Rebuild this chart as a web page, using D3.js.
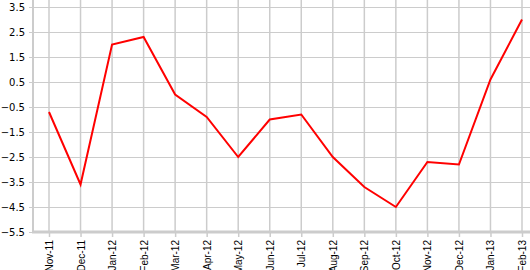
<!DOCTYPE html>
<html>
<head>
<meta charset="utf-8">
<script src="https://cdn.jsdelivr.net/npm/d3@7"></script>
<style>
  body { margin: 0; background: #fff; }
  svg { display: block; }
  text { fill: #000; }
</style>
</head>
<body>
<div id="container"></div>
<script>
/* DATA */
const months = ["Nov-11", "Dec-11", "Jan-12", "Feb-12", "Mar-12", "Apr-12", "May-12", "Jun-12",
  "Jul-12", "Aug-12", "Sep-12", "Oct-12", "Nov-12", "Dec-12", "Jan-13", "Feb-13"];
const values = [-0.7, -3.6, 2.0, 2.3, 0.0, -0.9, -2.5, -1.0, -0.8, -2.5, -3.7, -4.5, -2.7, -2.8, 0.6, 3.0];
const yTicks = [-5.5, -4.5, -3.5, -2.5, -1.5, -0.5, 0.5, 1.5, 2.5, 3.5];

/* CONSTANTS */
const width = 530, height = 270;
const left = 33, bottom = 232;

const xScale = d3.scalePoint()
  .domain(months)
  .range([49, 522]);

const yScale = d3.scaleLinear()
  .domain([-5.5, 3.5])
  .range([bottom, 7]);

const svg = d3.select("#container")
  .append("svg")
  .attr("width", width)
  .attr("height", height);

// grid
svg.append("g")
  .selectAll("line")
  .data(yTicks)
  .join("line")
  .attr("x1", left)
  .attr("x2", width)
  .attr("y1", d => Math.round(yScale(d)) + 0.5)
  .attr("y2", d => Math.round(yScale(d)) + 0.5)
  .attr("stroke", "#cccccc");

svg.append("g")
  .selectAll("line")
  .data(months)
  .join("line")
  .attr("x1", d => xScale(d))
  .attr("x2", d => xScale(d))
  .attr("y1", 0)
  .attr("y2", bottom)
  .attr("stroke", "#cccccc")
  .attr("stroke-width", 1.5);

// y axis
const yAxis = d3.axisLeft(yScale)
  .tickValues(yTicks)
  .tickFormat(d3.format(".1f"))
  .tickSize(4)
  .tickPadding(4);
const gy = svg.append("g")
  .attr("transform", `translate(${left},0)`)
  .call(yAxis);
gy.select(".domain").remove();
gy.selectAll(".tick line").attr("stroke", "#cccccc");
gy.selectAll("text")
  .style("font-family", "'DejaVu Sans', Verdana, sans-serif")
  .style("font-size", "10px")
  .attr("fill", "#000");

// x axis
const xAxis = d3.axisBottom(xScale)
  .tickSize(5)
  .tickPadding(4);
const gx = svg.append("g")
  .attr("transform", `translate(0,${bottom})`)
  .call(xAxis);
gx.select(".domain").remove();
gx.selectAll(".tick line").attr("stroke", "#cccccc").attr("stroke-width", 1.5);
gx.selectAll("text")
  .attr("transform", "rotate(-90)")
  .attr("text-anchor", "end")
  .attr("x", -8)
  .attr("y", 0)
  .attr("dy", "0.35em")
  .style("font-family", "'Liberation Sans', Arial, sans-serif")
  .style("font-size", "10px")
  .attr("fill", "#000");

// axis lines
svg.append("line")
  .attr("x1", left).attr("x2", left)
  .attr("y1", 0).attr("y2", bottom + 1)
  .attr("stroke", "#cccccc")
  .attr("stroke-width", 2);
svg.append("line")
  .attr("x1", left - 1).attr("x2", width)
  .attr("y1", bottom).attr("y2", bottom)
  .attr("stroke", "#cccccc")
  .attr("stroke-width", 3);

// line
const line = d3.line()
  .x((d, i) => xScale(months[i]))
  .y(d => yScale(d));

svg.append("path")
  .datum(values)
  .attr("d", line)
  .attr("fill", "none")
  .attr("stroke", "#ff0000")
  .attr("stroke-width", 2);
</script>
</body>
</html>
